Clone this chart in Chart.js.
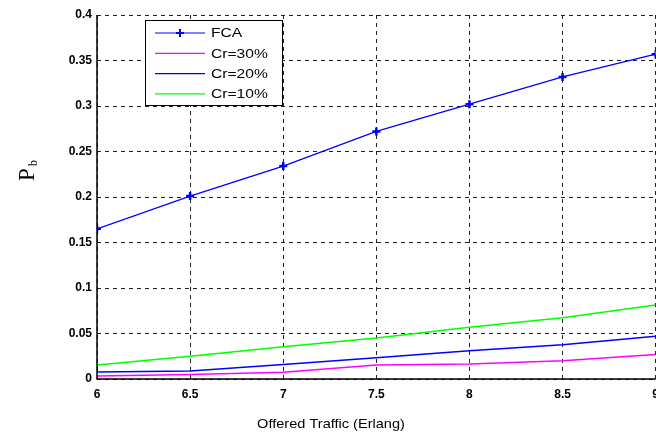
<!DOCTYPE html>
<html lang="en">
<head>
  <meta charset="UTF-8">
  <title>Pb vs Offered Traffic</title>
  <script src="https://cdn.jsdelivr.net/npm/chart.js"></script>
  <style>
    body { margin: 0; background: #fff; overflow: hidden; }
    #wrap { width: 656px; height: 434px; overflow: hidden; }
  </style>
</head>
<body>
  <div id="wrap"><canvas id="grafico" width="667" height="434"></canvas></div>

  <script>
    // offered traffic (Erlang)
    const traffic = [6, 6.5, 7, 7.5, 8, 8.5, 9];
    const fca   = [0.165, 0.201, 0.234, 0.272, 0.302, 0.332, 0.357];
    const cr30  = [0.0033, 0.005, 0.0073, 0.0154, 0.0165, 0.020, 0.027];
    const cr20  = [0.0077, 0.0088, 0.016, 0.0234, 0.031, 0.0377, 0.047];
    const cr10  = [0.0154, 0.025, 0.0355, 0.045, 0.0568, 0.0674, 0.0813];
    const xTicks = [6, 6.5, 7, 7.5, 8, 8.5, 9];
    const yTicks = [0, 0.05, 0.1, 0.15, 0.2, 0.25, 0.3, 0.35, 0.4];

    const pts = arr => arr.map((v, i) => ({ x: traffic[i], y: v }));

    // legend box + axis titles drawn by hand, matlab style
    const extras = {
      id: 'extras',
      afterDraw(chart) {
        const ctx = chart.ctx;
        const a = chart.chartArea;
        ctx.save();
        // frame: solid left/bottom
        ctx.strokeStyle = '#000';
        ctx.lineWidth = 1.5;
        ctx.beginPath();
        ctx.moveTo(a.left, a.top);
        ctx.lineTo(a.left, a.bottom);
        ctx.lineTo(a.right, a.bottom);
        ctx.stroke();

        // legend
        const lx = 145, ly = 20, lw = 137, lh = 85;
        ctx.fillStyle = '#fff';
        ctx.fillRect(lx, ly, lw, lh);
        ctx.lineWidth = 1;
        ctx.strokeRect(lx + 0.5, ly + 0.5, lw, lh);
        ctx.textBaseline = 'middle';
        chart.data.datasets.forEach((ds, i) => {
          const y = ly + 13 + i * 20.3;
          ctx.strokeStyle = ds.borderColor;
          ctx.lineWidth = 1.2;
          ctx.beginPath();
          ctx.moveTo(lx + 10, y);
          ctx.lineTo(lx + 60, y);
          ctx.stroke();
          if (ds.pointRadius > 0) {
            ctx.lineWidth = 2;
            ctx.beginPath();
            ctx.moveTo(lx + 35 - 4, y); ctx.lineTo(lx + 35 + 4, y);
            ctx.moveTo(lx + 35, y - 4); ctx.lineTo(lx + 35, y + 4);
            ctx.stroke();
          }
          ctx.save();
          ctx.translate(lx + 66, y + 1);
          ctx.scale(1.3, 1);
          ctx.fillStyle = '#000';
          ctx.font = '12px Arial, "Liberation Sans", sans-serif';
          ctx.fillText(ds.label, 0, 0);
          ctx.restore();
        });

        // y title P_b
        ctx.fillStyle = '#000';
        ctx.translate(34, 181);
        ctx.rotate(-Math.PI / 2);
        ctx.font = '23px "Times New Roman", "Liberation Serif", serif';
        ctx.textBaseline = 'alphabetic';
        ctx.fillText('P', 0, 0);
        ctx.font = '12px "Times New Roman", "Liberation Serif", serif';
        ctx.fillText('b', 15, 3);
        ctx.setTransform(1, 0, 0, 1, 0, 0);

        // x title
        ctx.translate(331, 424);
        ctx.scale(1.12, 1);
        ctx.font = '13px Arial, "Liberation Sans", sans-serif';
        ctx.textAlign = 'center';
        ctx.textBaseline = 'middle';
        ctx.fillText('Offered Traffic (Erlang)', 0, 0);
        ctx.restore();
      }
    };

    const gridDash = { color: '#222', lineWidth: 1, drawTicks: false };
    const tickFont = { family: 'Arial, "Liberation Sans", sans-serif', size: 12, weight: 'bold' };

    new Chart(document.getElementById('grafico').getContext('2d'), {
      type: 'line',
      data: {
        datasets: [
          { label: 'FCA', data: pts(fca), borderColor: '#0000ff', backgroundColor: '#0000ff',
            borderWidth: 1.3, pointStyle: 'cross', pointRadius: 4, pointBorderWidth: 2.5, fill: false },
          { label: 'Cr=30%', data: pts(cr30), borderColor: '#ff00ff', borderWidth: 1.5, pointRadius: 0, fill: false },
          { label: 'Cr=20%', data: pts(cr20), borderColor: '#0000ff', borderWidth: 1.5, pointRadius: 0, fill: false },
          { label: 'Cr=10%', data: pts(cr10), borderColor: '#00ff00', borderWidth: 1.5, pointRadius: 0, fill: false }
        ]
      },
      options: {
        responsive: false,
        animation: false,
        layout: { padding: { top: 15, right: 0, left: 0, bottom: 0 } },
        plugins: { legend: { display: false }, tooltip: { enabled: false } },
        scales: {
          x: {
            type: 'linear', min: 6, max: 9,
            afterBuildTicks: s => { s.ticks = xTicks.map(v => ({ value: v })); },
            afterFit: s => { s.height = 55; },
            grid: gridDash,
            border: { display: false, dash: [4, 4] },
            ticks: { color: '#000', padding: 8, maxRotation: 0, font: tickFont,
              callback: v => String(v) }
          },
          y: {
            min: 0, max: 0.4,
            afterBuildTicks: s => { s.ticks = yTicks.map(v => ({ value: v })); },
            afterFit: s => { s.width = 97; },
            grid: gridDash,
            border: { display: false, dash: [4, 4] },
            ticks: { color: '#000', padding: 5, font: tickFont,
              callback: v => String(v) }
          }
        }
      },
      plugins: [extras]
    });
  </script>
</body>
</html>
